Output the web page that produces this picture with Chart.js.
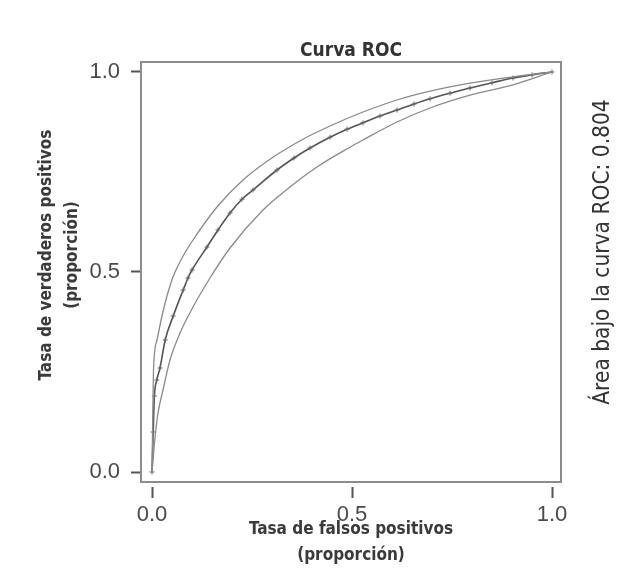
<!DOCTYPE html>
<html>
<head>
<meta charset="utf-8">
<title>Curva ROC</title>
<script src="https://cdn.jsdelivr.net/npm/chart.js@4.4.0/dist/chart.umd.min.js"></script>
<style>
  html, body { margin: 0; padding: 0; background: #ffffff; }
  #wrap { width: 631px; height: 570px; }
</style>
</head>
<body>
<div id="wrap"><canvas id="grafico-roc" width="631" height="570"></canvas></div>
<script>
// Valores (proporciones)
var fprCurva = [0, 0.003, 0.006, 0.012, 0.02, 0.033, 0.053, 0.078, 0.09, 0.10, 0.1375, 0.165, 0.195, 0.225, 0.2525, 0.3125, 0.355, 0.395, 0.445, 0.4875, 0.5275, 0.57, 0.6125, 0.655, 0.695, 0.745, 0.795, 0.85, 0.9025, 0.95, 1];
var tprCurva = [0, 0.10, 0.19, 0.23, 0.26, 0.33, 0.39, 0.455, 0.485, 0.505, 0.5625, 0.605, 0.6475, 0.682, 0.705, 0.755, 0.785, 0.81, 0.837, 0.857, 0.873, 0.89, 0.905, 0.92, 0.933, 0.947, 0.96, 0.973, 0.985, 0.993, 1];

// limite superior
var fprSup = [0, 0.002, 0.004, 0.0125, 0.025, 0.0375, 0.0525, 0.075, 0.1025, 0.1625, 0.2275, 0.295, 0.3775, 0.445, 0.5275, 0.6125, 0.695, 0.795, 0.9025, 1];
var tprSup = [0, 0.15, 0.26, 0.33, 0.39, 0.44, 0.4875, 0.535, 0.58, 0.6625, 0.73, 0.782, 0.832, 0.865, 0.9, 0.93, 0.952, 0.972, 0.988, 1];

// limite inferior
var fprInf = [0, 0.008, 0.015, 0.0275, 0.045, 0.07, 0.1025, 0.145, 0.195, 0.2775, 0.345, 0.4125, 0.495, 0.5275, 0.6125, 0.695, 0.795, 0.9025, 1];
var tprInf = [0, 0.09, 0.1475, 0.205, 0.28, 0.3475, 0.4125, 0.485, 0.56, 0.655, 0.7125, 0.7625, 0.812, 0.83, 0.875, 0.91, 0.942, 0.968, 1];

var ticksEje = [0, 0.5, 1];
var tituloGrafico = 'Curva ROC';
var tituloX = ['Tasa de falsos positivos', '(proporción)'];
var tituloY = ['Tasa de verdaderos positivos', '(proporción)'];
var textoArea = 'Área bajo la curva ROC: 0.804';

var fuenteNarrow = "'Liberation Sans Narrow', 'DejaVu Sans Condensed', 'Liberation Sans', sans-serif";

function puntos(xs, ys) {
    return xs.map(function(x, i) { return { x: x, y: ys[i] }; });
}

// Textos de ejes y nota lateral
var textosPlugin = {
    id: 'textos',
    afterDraw: function(chart) {
        var ctx = chart.ctx;
        var area = chart.chartArea;
        ctx.save();
        ctx.fillStyle = '#3a3a3a';
        ctx.textAlign = 'center';
        ctx.textBaseline = 'middle';
        ctx.font = 'bold 17px ' + fuenteNarrow;
        var cx = (area.left + area.right) / 2;
        ctx.fillText(tituloX[0], cx, 530);
        ctx.fillText(tituloX[1], cx, 556);

        ctx.save();
        ctx.translate(47, 255);
        ctx.rotate(-Math.PI / 2);
        ctx.fillText(tituloY[0], 0, 0);
        ctx.restore();
        ctx.save();
        ctx.translate(73, 255);
        ctx.rotate(-Math.PI / 2);
        ctx.fillText(tituloY[1], 0, 0);
        ctx.restore();

        ctx.fillStyle = '#333333';
        ctx.font = '22.5px ' + fuenteNarrow;
        ctx.translate(603, 252);
        ctx.rotate(-Math.PI / 2);
        ctx.fillText(textoArea, 0, 0);
        ctx.restore();
    }
};

// Marco del grafico
var marcoPlugin = {
    id: 'marco',
    afterDatasetsDraw: function(chart) {
        var a = chart.chartArea;
        var ctx = chart.ctx;
        ctx.save();
        ctx.strokeStyle = '#8c8c8c';
        ctx.lineWidth = 2;
        ctx.strokeRect(a.left, a.top, a.right - a.left, a.bottom - a.top);
        ctx.restore();
    }
};

var fondoPlugin = {
    id: 'fondo',
    beforeDraw: function(chart) {
        var ctx = chart.ctx;
        ctx.save();
        ctx.fillStyle = '#ffffff';
        ctx.fillRect(0, 0, chart.width, chart.height);
        ctx.restore();
    }
};

var ctx = document.getElementById('grafico-roc').getContext('2d');

var data = {
    datasets: [{
        label: 'Limite superior',
        data: puntos(fprSup, tprSup),
        borderColor: '#8a8a8a',
        borderWidth: 1.3,
        pointRadius: 0,
        cubicInterpolationMode: 'monotone',
        fill: false
    }, {
        label: 'Limite inferior',
        data: puntos(fprInf, tprInf),
        borderColor: '#8a8a8a',
        borderWidth: 1.3,
        pointRadius: 0,
        cubicInterpolationMode: 'monotone',
        fill: false
    }, {
        label: 'Curva ROC',
        data: puntos(fprCurva, tprCurva),
        borderColor: '#555555',
        borderWidth: 1.6,
        pointStyle: 'cross',
        pointRadius: 2.5,
        pointBorderWidth: 1,
        pointBorderColor: '#666666',
        cubicInterpolationMode: 'monotone',
        fill: false
    }]
};

var ejeTicks = {
    font: { family: "'Liberation Sans', Arial, sans-serif", size: 22 },
    color: '#4a4a4a',
    autoSkip: false,
    maxRotation: 0,
    callback: function(v) { return Number(v).toFixed(1); }
};

var options = {
    responsive: false,
    animation: false,
    layout: { padding: { left: 0, top: 0, right: 70, bottom: 0 } },
    plugins: {
        legend: { display: false },
        tooltip: { enabled: false },
        title: {
            display: true,
            text: tituloGrafico,
            fullSize: false,
            color: '#333333',
            font: { family: fuenteNarrow, size: 19, weight: 'bold', lineHeight: 1.0 },
            padding: { top: 42, bottom: 1 }
        }
    },
    scales: {
        x: {
            type: 'linear',
            position: 'bottom',
            min: -0.0275,
            max: 1.0225,
            afterBuildTicks: function(s) { s.ticks = ticksEje.map(function(v) { return { value: v }; }); },
            afterFit: function(s) { s.height = 88; },
            ticks: Object.assign({ padding: 4 }, ejeTicks),
            grid: {
                drawOnChartArea: false,
                tickLength: 16,
                tickBorderDash: [0, 5, 11, 100],
                tickColor: '#555555',
                tickWidth: 2
            },
            border: { display: false }
        },
        y: {
            type: 'linear',
            position: 'left',
            min: -0.025,
            max: 1.025,
            afterBuildTicks: function(s) { s.ticks = ticksEje.map(function(v) { return { value: v }; }); },
            afterFit: function(s) { s.width = 141; },
            ticks: Object.assign({ padding: 6 }, ejeTicks),
            grid: {
                drawOnChartArea: false,
                tickLength: 15,
                tickBorderDash: [0, 5, 10, 100],
                tickColor: '#555555',
                tickWidth: 2
            },
            border: { display: false }
        }
    }
};

var rocChart = new Chart(ctx, {
    type: 'line',
    data: data,
    options: options,
    plugins: [fondoPlugin, marcoPlugin, textosPlugin]
});
</script>
</body>
</html>
